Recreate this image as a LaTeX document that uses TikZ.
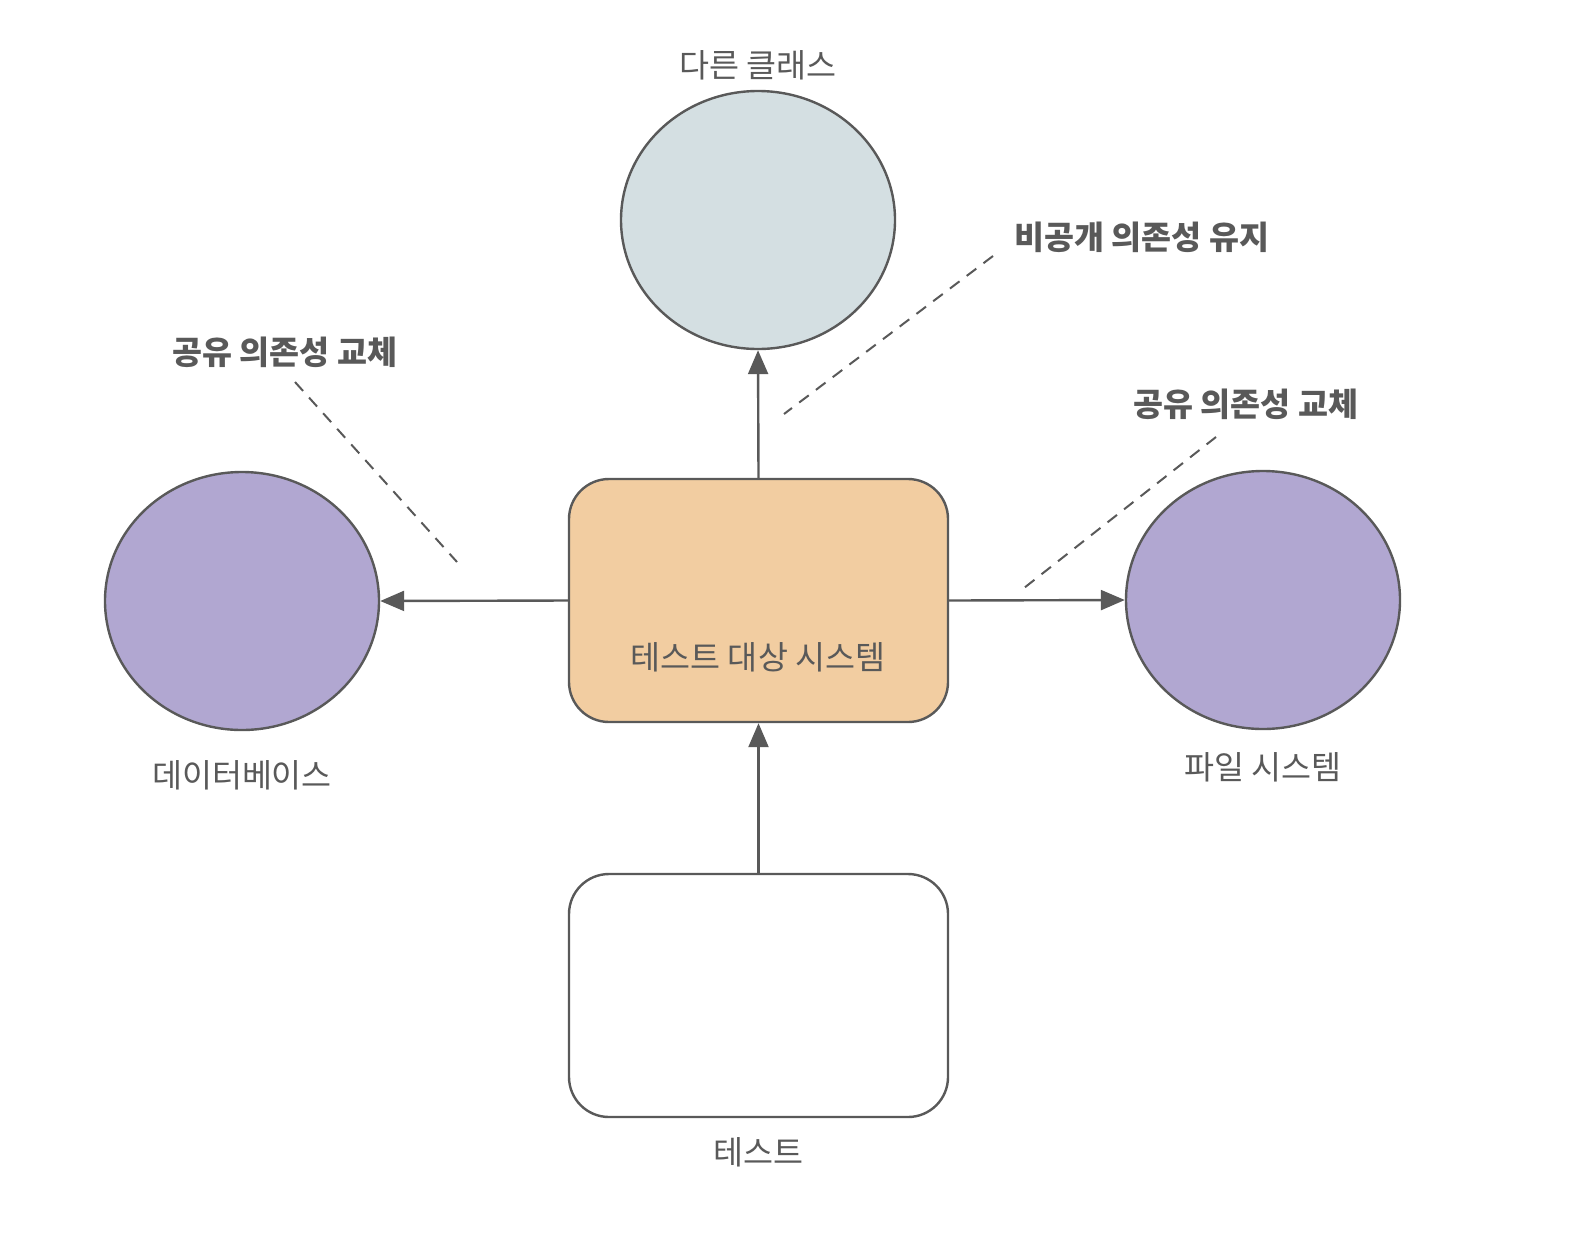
\documentclass[tikz,border=0pt]{standalone}
\usepackage{fontspec}
\setmainfont{Noto Sans CJK KR}
\usetikzlibrary{arrows.meta, shapes.geometric}

\definecolor{linegray}{HTML}{595959}
\definecolor{textgray}{HTML}{595959}
\definecolor{otherfill}{HTML}{D4DFE2}
\definecolor{sharedfill}{HTML}{B1A7D1}
\definecolor{sutfill}{HTML}{F2CDA1}

\tikzset{
  dep/.style={draw=linegray, line width=1.2pt, ellipse, minimum width=137pt, minimum height=129pt, inner sep=0pt},
  box/.style={draw=linegray, line width=1.2pt, rounded corners=20pt, minimum width=189.5pt, minimum height=121.5pt, inner sep=0pt},
  link/.style={draw=linegray, line width=1.2pt, -{Triangle[length=12pt, width=10pt]}},
  note/.style={draw=linegray, line width=1pt, dash pattern=on 6pt off 4.5pt},
  caption/.style={text=textgray, font=\fontsize{16.3}{19}\selectfont},
  remark/.style={text=textgray, font=\bfseries\fontsize{16.3}{19}\selectfont}
}

\begin{document}
\begin{tikzpicture}[x=0.5pt, y=-0.5pt]
  \useasboundingbox (0,0) rectangle (1572,1248);

  % nodes
  \node[dep, fill=otherfill] (other) at (758,220) {};
  \node[box, fill=sutfill] (sut) at (758.5,600.5) {};
  \node[dep, fill=sharedfill] (db) at (242,601) {};
  \node[dep, fill=sharedfill] (fs) at (1263,600) {};
  \node[box, fill=white] (test) at (758.5,995.5) {};

  % labels
  \node[caption] (otherlbl) at (758,65) {다른 클래스};
  \node[caption] (sutlbl) at (758,657) {테스트 대상 시스템};
  \node[caption] (dblbl) at (242,775) {데이터베이스};
  \node[caption] (fslbl) at (1263,767) {파일 시스템};
  \node[caption] (testlbl) at (758,1152) {테스트};

  % arrows
  \draw[link] (sut.north) -- (other.south);
  \draw[link] (sut.west) -- (db.east);
  \draw[link] (sut.east) -- (fs.west);
  \draw[link] (test.north) -- (sut.south);

  % remarks
  \node[remark] (leftrmk) at (285,352) {공유 의존성 교체};
  \node[remark] (toprmk) at (1142,237) {비공개 의존성 유지};
  \node[remark] (rightrmk) at (1246,404) {공유 의존성 교체};
  \coordinate (leftstart) at (295,382);
  \coordinate (leftend) at (457,562);
  \coordinate (topstart) at (993,256);
  \coordinate (topend) at (784,414);
  \coordinate (rightstart) at (1216,437);
  \coordinate (rightend) at (1024,588);
  \draw[note] (leftstart) -- (leftend);
  \draw[note] (topstart) -- (topend);
  \draw[note] (rightstart) -- (rightend);
\end{tikzpicture}
\end{document}
